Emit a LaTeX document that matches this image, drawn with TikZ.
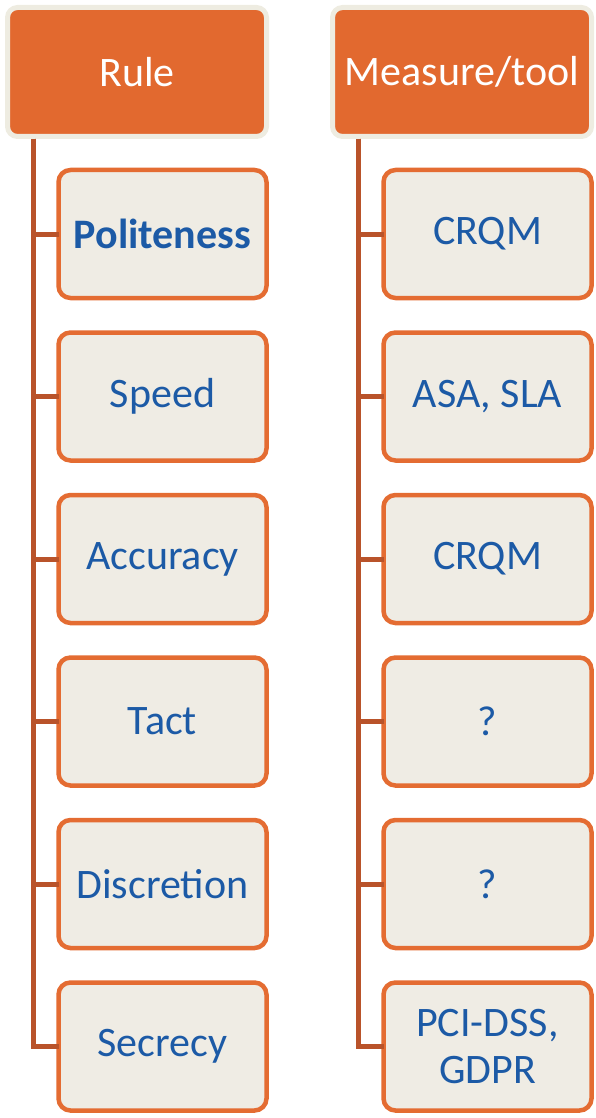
\documentclass[tikz,border=0pt]{standalone}
\usepackage{fontspec}
\setmainfont{Carlito}
\usepackage{tikz}
\usetikzlibrary{positioning}
\definecolor{hdorange}{HTML}{E2692F}
\definecolor{hdrim}{HTML}{EEECE1}
\definecolor{itemrim}{HTML}{E46C32}
\definecolor{itemfill}{HTML}{EFECE4}
\definecolor{itemtext}{HTML}{1C5AA6}
\definecolor{linkcol}{HTML}{B9532A}

\begin{document}
\begin{tikzpicture}[x=1pt,y=1pt,
  every node/.style={font=\fontsize{42}{47}\selectfont,align=center},
  head/.style={rectangle,rounded corners=10pt,draw=hdrim,line width=5pt,
               fill=hdorange,text=white,outer sep=0pt,
               minimum width=259pt,minimum height=129pt,inner sep=2pt},
  item/.style={rectangle,rounded corners=12pt,draw=itemrim,line width=4.5pt,
               fill=itemfill,text=itemtext,outer sep=0pt,
               minimum width=208pt,minimum height=128pt,inner sep=2pt},
  link/.style={draw=linkcol,line width=5pt},
]
\useasboundingbox (0,0) rectangle (596,-1118);

\node[head] (rule) at (137,-72) {Rule};
\node[head,right=66pt of rule] (measure) {Measure/tool};

\node[item,below=33.5pt of rule.south east,anchor=north east] (r1) {\textbf{Politeness}};
\node[item,below=34.5pt of r1] (r2) {Speed};
\node[item,below=34.5pt of r2] (r3) {Accuracy};
\node[item,below=34.5pt of r3] (r4) {Tact};
\node[item,below=34.5pt of r4] (r5) {Discretion};
\node[item,below=34.5pt of r5] (r6) {Secrecy};

\node[item,below=33.5pt of measure.south east,anchor=north east] (m1) {CRQM};
\node[item,below=34.5pt of m1] (m2) {ASA, SLA};
\node[item,below=34.5pt of m2] (m3) {CRQM};
\node[item,below=34.5pt of m3] (m4) {?};
\node[item,below=34.5pt of m4] (m5) {?};
\node[item,below=34.5pt of m5] (m6) {PCI-DSS,\\GDPR};

\coordinate (rtrunk) at ([xshift=25.5pt,yshift=-2.5pt]rule.south west);
\coordinate (mtrunk) at ([xshift=25.5pt,yshift=-2.5pt]measure.south west);

\draw[link] (rtrunk) |- (r1.west);
\draw[link] (rtrunk) |- (r2.west);
\draw[link] (rtrunk) |- (r3.west);
\draw[link] (rtrunk) |- (r4.west);
\draw[link] (rtrunk) |- (r5.west);
\draw[link] (rtrunk) |- (r6.west);

\draw[link] (mtrunk) |- (m1.west);
\draw[link] (mtrunk) |- (m2.west);
\draw[link] (mtrunk) |- (m3.west);
\draw[link] (mtrunk) |- (m4.west);
\draw[link] (mtrunk) |- (m5.west);
\draw[link] (mtrunk) |- (m6.west);
\end{tikzpicture}
\end{document}
